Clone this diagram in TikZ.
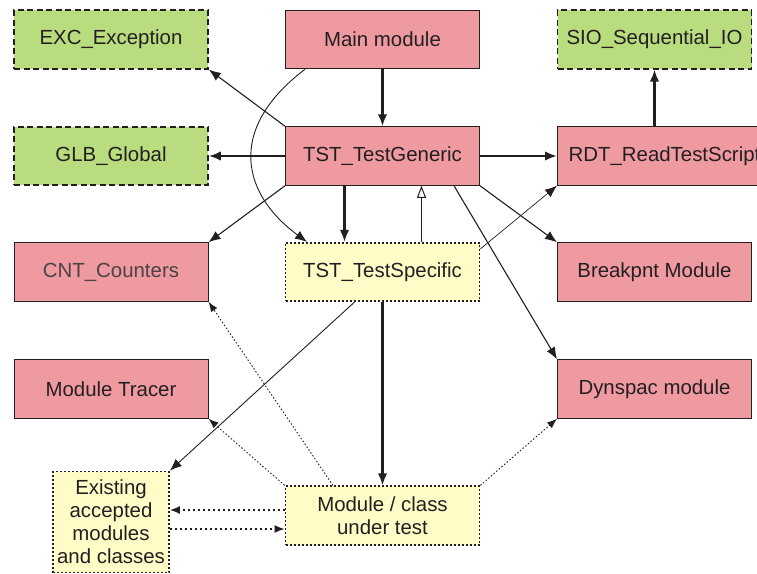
\documentclass[tikz,border=0pt]{standalone}
\usepackage{fontspec}
\setmainfont{Liberation Sans}
\usetikzlibrary{arrows.meta,calc}
\definecolor{modpink}{HTML}{EF9AA0}
\definecolor{extgreen}{HTML}{B8DC7E}
\definecolor{testyellow}{HTML}{FFFCC8}
\definecolor{ink}{HTML}{231F20}
\definecolor{greyink}{HTML}{4A4244}

\begin{document}
\begin{tikzpicture}[x=1pt,y=-1pt,
  box/.style={draw=ink, line width=1pt, minimum width=194pt, minimum height=58.5pt,
    inner sep=0pt, font=\fontsize{20.4}{23}\selectfont, text=ink},
  module/.style={box, fill=modpink},
  external/.style={box, fill=extgreen, dash pattern=on 6pt off 3.5pt, line width=1.7pt},
  testbox/.style={box, fill=testyellow, dash pattern=on 2pt off 2pt, line width=1.7pt},
  tip/.style={-{Latex[length=12pt,width=9.5pt]}},
  strong/.style={tip, draw=ink, line width=2.3pt},
  weak/.style={tip, draw=ink, line width=1.1pt},
  faint/.style={tip, draw=ink, line width=0.7pt},
  inherits/.style={draw=ink, line width=1pt, -{Triangle[open, length=12pt, width=9pt]}},
  uses/.style={draw=ink, line width=0.9pt, dash pattern=on 1.5pt off 2pt,
    -{Latex[length=10pt,width=7.5pt]}},
  calls/.style={draw=ink, line width=1.6pt, dash pattern=on 2pt off 3pt,
    -{Latex[length=10pt,width=8pt]}}
]
\useasboundingbox (0,0) rectangle (757,573);
\clip (0,0) rectangle (757,573);

% top row
\node[external] (exc)  at (111,39.5)   {EXC\_Exception};
\node[module]   (main) at (382.5,39.5) {Main module};
\node[external] (sio)  at (654.5,39.5) {SIO\_Sequential\_IO};

% second row
\node[external] (glb) at (111,156)   {GLB\_Global};
\node[module]   (tg)  at (382.5,156) {TST\_TestGeneric};
\node[module, minimum width=214pt, anchor=west] (rdt) at (557,156) {RDT\_ReadTestScript};

% third row
\node[module, text=greyink] (cnt) at (111,272) {CNT\_Counters};
\node[testbox] (ts) at (382.5,272) {TST\_TestSpecific};
\node[module]  (bp) at (654.5,272) {Breakpnt Module};

% fourth row
\node[module] (mt) at (111,389)   {Module Tracer};
\node[module] (dy) at (654.5,389) {Dynspac module};

% bottom row
\node[testbox, minimum width=116pt, minimum height=101pt, align=center] (ex) at (111,522)
  {Existing\\accepted\\modules\\and classes};
\node[testbox, align=center] (mc) at (382.5,515.5) {Module / class\\under test};

% connectors from the generic test driver
\draw[strong] (main) -- (tg);
\draw[weak] (tg.north west) -- (exc.south east);
\draw[strong] (tg) -- (glb);
\draw[strong] (tg.east) -- (rdt.west);
\draw[strong] (sio.south |- rdt.north) -- (sio.south);
\draw[weak] (tg.south west) -- (cnt.north east);
\draw[strong] ([xshift=-38pt]tg.south) -- ([xshift=-38pt]ts.north);
\draw[inherits] ([xshift=39pt]ts.north) -- ([xshift=39pt]tg.south);
\draw[weak] (tg.south east) -- (bp.north west);
\draw[weak] ([xshift=-26pt]tg.south east) -- (dy.north west);
\draw[faint] ([yshift=-7pt]ts.north east) -- (rdt.south west);

% main module reaches the specific test part
\draw[faint, line width=0.9pt] ([xshift=-77.5pt]main.south) .. controls (225,130) and (243,195) .. ([xshift=-75.5pt]ts.north);

% specific test part
\draw[weak, line width=0.9pt] ([xshift=-28pt]ts.south) -- (ex.north east);
\draw[strong] (ts) -- (mc);

% module under test uses other modules
\draw[uses] (mc.north west) -- (mt.south east);
\draw[uses] ([xshift=-49.5pt]mc.north) -- (cnt.south east);
\draw[uses] (mc.north east) -- (dy.south west);

\coordinate (uprow)  at ([yshift=5.5pt]mc.west);
\coordinate (lowrow) at ([yshift=-13.5pt]mc.west);
\draw[calls] (uprow) -- (uprow -| ex.east);
\draw[calls] (lowrow -| ex.east) -- (lowrow);
\end{tikzpicture}
\end{document}
